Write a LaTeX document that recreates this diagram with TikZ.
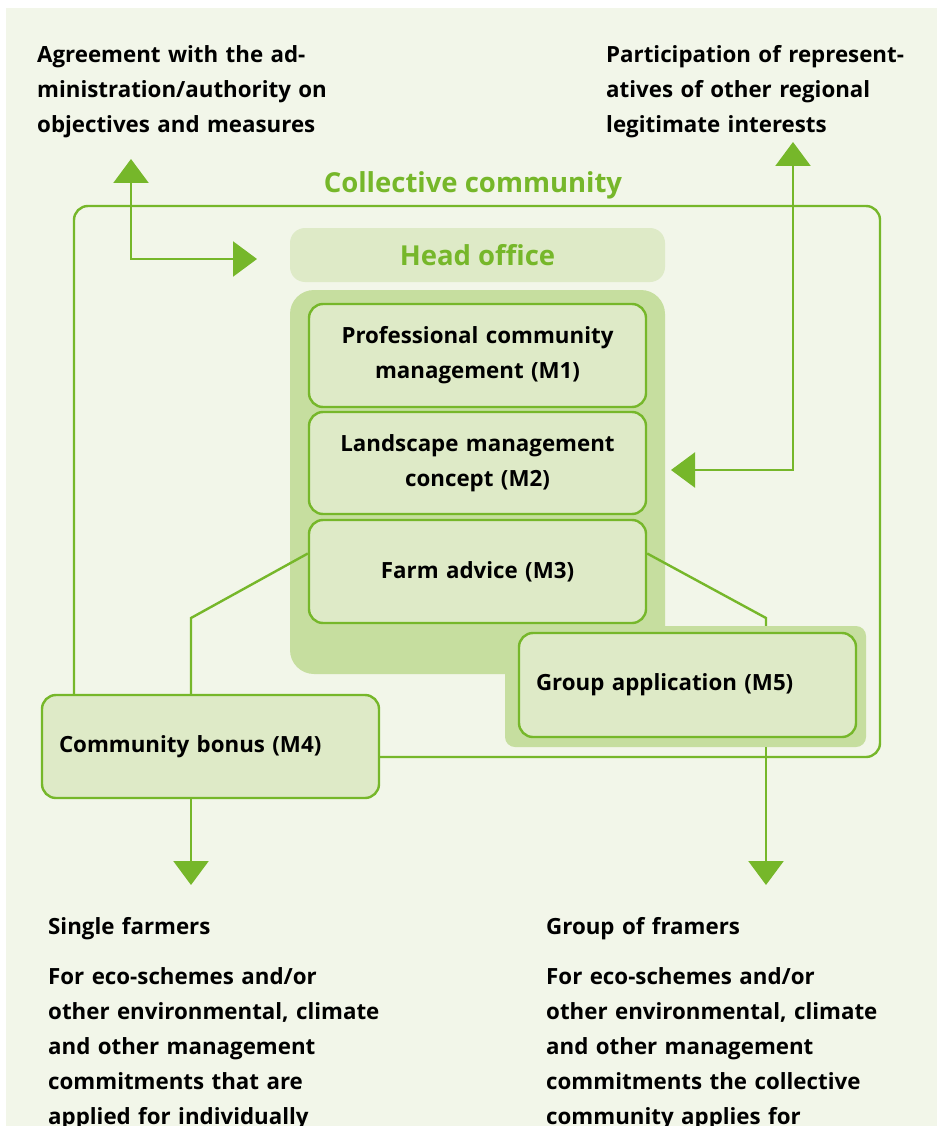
\documentclass[tikz,border=0pt]{standalone}
\usepackage{fontspec}
\setmainfont{Open Sans}
\usetikzlibrary{arrows.meta}
\definecolor{grn}{HTML}{76B72A}
\definecolor{panel}{HTML}{F2F6E9}
\definecolor{boxfill}{HTML}{DEEAC7}
\definecolor{grpfill}{HTML}{C6DE9F}
\newcommand\myfnt{\bfseries\fontsize{22.3}{35}\selectfont}
\newcommand\myhead{\bfseries\fontsize{27.5}{34}\selectfont}
\begin{document}
\begin{tikzpicture}[x=1pt,y=-1pt,
  >={Triangle[width=35pt,length=24pt]},
  conn/.style={draw=grn, line width=2.4pt},
  txt/.style={font=\myfnt, text width=380pt, align=left, inner sep=0pt},
  mbox/.style={draw=grn, line width=2.4pt, fill=boxfill, rounded corners=14pt,
    minimum width=337pt, minimum height=103pt, inner sep=0pt, align=center,
    text width=330pt, font=\myfnt},
  greenhead/.style={font=\myhead, text=grn, inner sep=0pt},
  grpshape/.style={fill=grpfill, inner sep=0pt}]
\useasboundingbox (0,0) rectangle (937,1126);
\fill[white] (0,0) rectangle (937,1126);
\fill[panel] (6,8) rectangle (937,1126);

% top texts
\node[txt, anchor=base west] (agree) at (37,63) {Agreement with the ad-\\ministration/authority on\\objectives and measures};
\node[txt, anchor=base west] (partic) at (606,63) {Participation of represent-\\atives of other regional\\legitimate interests};
\node[greenhead, anchor=base] (cclabel) at (473,193) {Collective community};

% collective community frame
\node[draw=grn, line width=2.4pt, rounded corners=14pt, minimum width=806pt, minimum height=551pt, inner sep=0pt] (comm) at (477,481.5) {};

% side arrows
\coordinate (a1) at (131,159);
\coordinate (a2) at (257,259);
\draw[conn,<->] (a1) |- (a2);
\coordinate (b1) at (793,142);
\coordinate (b2) at (671,470);
\draw[conn,<->] (b1) |- (b2);

% head office group background
\node[grpshape, rounded corners=24pt, minimum width=375pt, minimum height=384pt] (grp) at (477.5,482) {};
\node[grpshape, rounded corners=10pt, minimum width=361pt, minimum height=121pt] (m5bg) at (685.5,686.5) {};
\node[fill=boxfill, rounded corners=15pt, minimum width=375pt, minimum height=54pt, greenhead] (ho) at (477.5,255) {Head office};

% connector points
\coordinate (k1) at (191,618);
\coordinate (k2) at (766,618);
\coordinate (t1) at (191,885);
\coordinate (t2) at (766,885);

% boxes
\node[mbox] (m1) at (477.5,355.5) {Professional community\\management (M1)};
\node[mbox, minimum height=102pt] (m2) at (477.5,463) {Landscape management\\concept (M2)};
\node[mbox] (m3) at (477.5,571.5) {Farm advice (M3)};

\draw[conn] ([yshift=18pt]m3.west) -- (k1) -- (k1 |- comm.south);
\draw[conn] ([yshift=18pt]m3.east) -- (k2) -- (k2 |- m5bg.north);

\node[mbox, align=left, text width=303pt, minimum height=104pt] (m5) at (687.5,685) {Group application (M5)};
\node[mbox, align=left, text width=303pt] (m4) at (210.5,746.5) {Community bonus (M4)};

% bottom arrows
\draw[conn,->] (m4.south -| t1) -- (t1);
\draw[conn,->] (m5bg.south -| t2) -- (t2);

% bottom texts
\node[txt, anchor=base west] (single) at (48,934) {Single farmers\\[15pt]For eco-schemes and/or\\other environmental, climate\\and other management\\commitments that are\\applied for individually};
\node[txt, anchor=base west] (groupf) at (546,934) {Group of framers\\[15pt]For eco-schemes and/or\\other environmental, climate\\and other management\\commitments the collective\\community applies for};
\end{tikzpicture}
\end{document}
